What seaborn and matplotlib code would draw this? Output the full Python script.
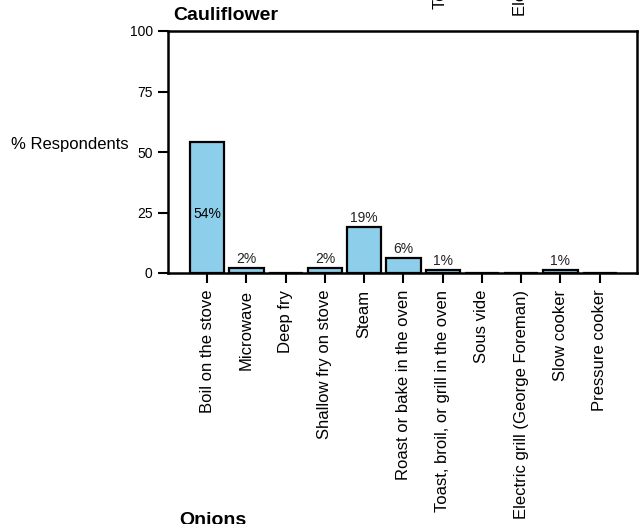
import matplotlib
matplotlib.use('Agg')
import matplotlib.pyplot as plt
import seaborn as sns
import pandas as pd

# ===============================
# DATA
# ===============================
methods = [
    'Boil on the stove', 'Microwave', 'Deep fry', 'Shallow fry on stove',
    'Steam', 'Roast or bake in the oven', 'Toast, broil, or grill in the oven',
    'Sous vide', 'Electric grill (George Foreman)', 'Slow cooker', 'Pressure cooker',
]
pct = [54, 2, 0, 2, 19, 6, 1.2, 0, 0, 1.2, 0]
pct_labels = ['54%', '2%', '', '2%', '19%', '6%', '1%', '', '', '1%', '']
yticks = [0, 25, 50, 75, 100]

df = pd.DataFrame({'method': methods, 'pct': pct})

# ===============================
# STYLE
# ===============================
sns.set_style('ticks')
plt.rcParams['font.family'] = ['Liberation Sans', 'DejaVu Sans']
plt.rcParams['text.color'] = 'black'
plt.rcParams['axes.labelcolor'] = 'black'
plt.rcParams['xtick.color'] = 'black'
plt.rcParams['ytick.color'] = 'black'

fig = plt.figure(figsize=(6.4, 5.24), dpi=100)
ax = fig.add_axes([168/640, 1 - 273/524, (637 - 168)/640, (273 - 31)/524])

sns.barplot(data=df, x='method', y='pct', color='#8DCFEB', saturation=1,
            edgecolor='black', linewidth=1.6, width=0.87, ax=ax)

# value labels
for i, (v, lab) in enumerate(zip(pct, pct_labels)):
    if not lab:
        continue
    if v > 40:
        ax.text(i, v * 0.45, lab, ha='center', va='center', fontsize=10)
    else:
        ax.annotate(lab, (i, v), xytext=(0, 1.5), textcoords='offset points',
                    ha='center', va='bottom', fontsize=10, color='#222222')

ax.set_xlim(-1, 10.95)
ax.set_ylim(0, 100)
ax.set_yticks(yticks)
ax.set_yticklabels([str(t) for t in yticks], fontsize=10)
ax.set_xticks(range(len(methods)))
ax.set_xticklabels(methods, rotation=90, fontsize=12)
ax.set_xlabel('')
ax.set_ylabel('% Respondents', rotation=0, fontsize=12, ha='right', va='center')
ax.yaxis.set_label_coords(-0.085, 0.53)

for s in ax.spines.values():
    s.set_visible(True)
    s.set_linewidth(1.8)
    s.set_color('black')
ax.tick_params(axis='both', direction='out', length=7, width=1.5, colors='black')
ax.tick_params(axis='x', pad=5)
ax.tick_params(axis='y', pad=4)

# ===============================
# PANEL TITLES / FRAGMENTS OF NEIGHBOUR PANELS
# ===============================
fig.text(173/640, 1 - 20/524, 'Cauliflower', fontsize=14, fontweight='bold',
         ha='left', va='baseline')
fig.text(179/640, 1 - 512/524, 'Onions', fontsize=14, fontweight='bold',
         ha='left', va='top')
fig.text(441/640, 1 + 213/524, 'Toast, broil, or grill in the oven',
         rotation=90, fontsize=12, ha='center', va='top')
fig.text(520/640, 1 + 213/524, 'Electric grill (George Foreman)',
         rotation=90, fontsize=12, ha='center', va='top')

fig.savefig('out.png', dpi=100)
